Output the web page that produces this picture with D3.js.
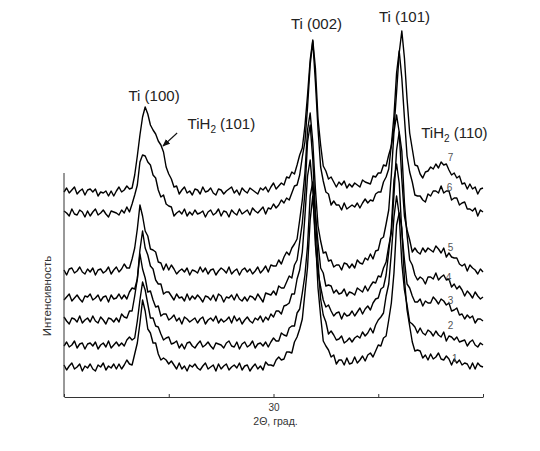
<!DOCTYPE html>
<html>
<head>
<meta charset="utf-8">
<script src="https://cdn.jsdelivr.net/npm/d3@7"></script>
<style>
  body { margin: 0; background: #fff; }
  text { font-family: "Liberation Sans", Arial, sans-serif; }
</style>
</head>
<body>
<div id="chart"></div>
<script>
// 2theta sample positions (deg)
var angles = [
  28,28.025,28.05,28.075,28.1,28.125,28.15,28.175,
  28.2,28.225,28.25,28.275,28.3,28.325,28.35,28.375,
  28.4,28.425,28.45,28.475,28.5,28.525,28.55,28.575,
  28.6,28.625,28.65,28.675,28.7,28.725,28.75,28.775,
  28.8,28.825,28.85,28.875,28.9,28.925,28.95,28.975,
  29,29.025,29.05,29.075,29.1,29.125,29.15,29.175,
  29.2,29.225,29.25,29.275,29.3,29.325,29.35,29.375,
  29.4,29.425,29.45,29.475,29.5,29.525,29.55,29.575,
  29.6,29.625,29.65,29.675,29.7,29.725,29.75,29.775,
  29.8,29.825,29.85,29.875,29.9,29.925,29.95,29.975,
  30,30.025,30.05,30.075,30.1,30.125,30.15,30.175,
  30.2,30.225,30.25,30.275,30.3,30.325,30.35,30.375,
  30.4,30.425,30.45,30.475,30.5,30.525,30.55,30.575,
  30.6,30.625,30.65,30.675,30.7,30.725,30.75,30.775,
  30.8,30.825,30.85,30.875,30.9,30.925,30.95,30.975,
  31,31.025,31.05,31.075,31.1,31.125,31.15,31.175,
  31.2,31.225,31.25,31.275,31.3,31.325,31.35,31.375,
  31.4,31.425,31.45,31.475,31.5,31.525,31.55,31.575,
  31.6,31.625,31.65,31.675,31.7,31.725,31.75,31.775,
  31.8,31.825,31.85,31.875,31.9,31.925,31.95,31.975,
  32
];

// intensity of each pattern above its own baseline (arb. units)
var curve1 = [
  2,-3,1,4,-2,0,3,-4,1,-1, 3,-2,-4,2,0,4,-3,1,-1,3,
  -2,3,-2,2,7,3,2,13,24,44, 67,56,38,34,24,24,13,7,9,7,
  3,6,2,-2,4,-2,1,-4,2,0, 3,-1,-3,1,4,-2,0,2,-4,3,
  -2,1,3,-3,0,2,-1,4,-3,1, 2,-4,0,3,-2,1,-3,5,2,2,
  1,7,10,7,8,15,15,14,25,30, 38,48,74,100,147,171,131,79,51,26,
  21,17,10,12,3,7,7,2,9,3, 4,10,4,7,11,6,12,14,10,16,
  22,21,29,31,47,64,94,142,154,139, 88,57,41,25,16,17,16,9,12,7,
  13,8,10,14,8,7,11,8,2,8, 4,7,2,4,3,-2,4,-2,4,1,
  0];
var curve2 = [
  -1,3,-2,0,4,-3,1,2,-4,1, 2,-1,3,-4,0,2,-2,4,-3,0,
  3,-1,2,-1,5,8,5,7,24,45, 63,55,41,27,27,19,18,11,5,7,
  8,1,2,4,-3,1,-4,2,3,-1, -3,1,4,-2,0,3,-1,-4,2,1,
  0,-3,2,4,-1,-2,3,-4,1,3, -2,0,4,-3,1,2,-1,3,-2,3,
  7,4,4,12,10,9,17,19,19,32, 36,52,70,99,149,163,131,83,46,30,
  23,11,14,10,5,6,9,2,4,7, 3,7,9,7,13,9,12,17,12,20,
  25,28,32,49,61,92,128,149,130,82, 55,40,23,21,18,12,17,12,10,15,
  13,9,14,10,8,13,4,9,8,5, 8,3,4,5,-1,3,5,0,-2,2,
  0];
var curve3 = [
  3,-1,-4,2,1,-2,4,-3,0,2, -2,4,-1,-3,3,0,-4,2,1,-2,
  2,-2,6,3,2,9,9,24,41,66, 51,42,28,29,20,13,14,4,6,6,
  0,2,5,-1,2,-4,3,1,-2,0, 2,-3,1,3,-4,0,2,-1,4,-3,
  1,-2,0,3,-3,4,-1,2,-4,0, 3,-1,-3,2,0,4,-2,3,0,6,
  3,9,9,6,14,15,17,26,26,41, 50,68,104,144,160,130,75,48,33,20,
  13,15,9,4,7,8,1,7,4,5, 9,4,8,12,6,11,14,10,17,21,
  22,31,33,45,68,92,140,156,137,88, 60,36,32,24,18,18,21,14,19,17,
  17,23,20,16,21,19,15,17,9,10, 12,5,6,1,5,2,4,-3,1,1,
  -1];
var curve4 = [
  -2,1,4,-3,0,3,-1,-4,2,1, 4,-2,0,3,-3,1,2,-4,3,-1,
  0,4,-1,3,-1,6,10,9,19,48, 67,50,43,32,29,18,14,14,4,6,
  6,2,-2,4,0,1,-3,4,-2,2, -1,3,0,-4,2,1,-2,3,-3,4,
  2,-4,1,0,3,-2,4,-1,-3,1, -3,2,1,-2,4,0,-4,5,4,3,
  7,3,12,10,10,16,22,20,33,38, 56,75,106,156,173,139,84,55,30,25,
  12,13,12,5,8,4,5,9,2,6, 5,3,10,8,6,12,7,12,16,15,
  22,21,30,36,52,65,103,148,166,147, 95,63,38,33,23,18,21,19,14,21,
  21,19,25,18,21,23,18,19,11,14, 9,12,8,2,7,4,0,6,2,-1,
  1];
var curve5 = [
  1,-4,2,3,-2,0,4,-1,-3,2, -1,3,-4,1,2,-2,0,4,-3,1,
  4,-1,2,7,3,3,12,23,42,66, 55,40,35,22,21,19,9,8,1,7,
  1,6,2,-3,0,2,-1,3,-4,1, 0,-2,4,-1,3,-3,1,2,-4,0,
  3,1,-2,4,-3,0,2,-4,1,3, -1,2,-3,0,4,-2,1,5,-1,6,
  5,5,11,7,14,19,16,23,27,32, 51,71,98,141,158,129,82,45,30,18,
  19,10,11,4,6,6,1,8,7,3, 7,3,11,8,7,13,11,17,12,20,
  21,32,34,47,61,96,139,156,139,92, 55,41,31,19,23,19,17,23,19,23,
  21,19,25,22,18,23,14,18,14,13, 13,7,5,7,0,6,3,1,-3,2,
  -1];
var curve6 = [
  2,0,-3,4,-1,-2,3,1,-4,2, -3,1,4,-2,0,3,-1,-4,2,1,
  0,-2,3,0,6,1,9,18,28,51, 58,57,51,48,38,35,23,16,18,9,
  7,6,-3,0,2,-1,4,-3,1,-2, 3,-1,0,2,-4,1,3,-2,0,4,
  -3,2,1,-4,3,0,-2,4,-1,1, 3,-2,5,2,0,3,6,-1,5,4,
  9,5,8,13,10,15,13,20,27,28, 38,56,71,106,148,172,131,84,46,32,
  21,19,8,12,8,8,3,10,4,6, 8,6,10,5,10,14,10,13,12,19,
  21,21,31,36,44,68,97,140,162,135, 95,57,41,31,18,17,17,13,11,19,
  17,22,22,20,27,20,22,22,13,15, 15,8,10,11,4,4,2,5,-3,3,
  1];
var curve7 = [
  -1,3,-2,1,4,-3,0,2,-4,1, 2,-1,2,-5,-1,-2,0,-5,0,-5,
  0,4,-1,1,5,2,3,16,35,56, 74,84,77,66,61,57,50,46,39,24,
  17,12,4,5,-3,1,4,-2,0,-4, 2,1,-3,4,-1,0,3,-2,-4,2,
  1,-3,0,2,4,-2,1,-4,3,0, -2,3,1,-1,-3,3,1,4,-1,4,
  8,2,5,8,6,14,13,19,17,26, 36,43,65,96,131,151,123,72,46,25,
  20,12,14,9,4,9,6,10,3,7, 4,8,6,4,11,9,8,7,15,14,
  18,18,26,25,36,45,62,99,138,160, 133,92,58,42,26,25,17,13,19,20,
  24,22,27,23,29,26,27,21,16,18, 13,15,7,8,2,7,2,4,-3,2,
  3];

var curves = [curve1, curve2, curve3, curve4, curve5, curve6, curve7];
// vertical shift of each pattern in the stack
var offsets = [30, 52, 77, 99, 126, 184, 206];
var curveNames = ["1", "2", "3", "4", "5", "6", "7"];
var namePos = [[31.73, 35], [31.69, 68], [31.69, 93], [31.67, 116], [31.69, 146], [31.68, 206], [31.69, 236]];

var xTicks = [28, 29, 30, 31, 32];
var peakLabels = [
  {text: "Ti (100)", t: 28.86, v: 296},
  {text: "Ti (002)", t: 30.41, v: 368},
  {text: "Ti (101)", t: 31.25, v: 375}
];
var hydrideLabels = [
  {t: 29.18, v: 268, sub: "(101)"},
  {t: 31.41, v: 259, sub: "(110)"}
];

var W = 540, H = 451;
var svg = d3.select("#chart").append("svg")
  .attr("width", W).attr("height", H);
svg.append("rect").attr("width", W).attr("height", H).attr("fill", "#fff");

var x = d3.scaleLinear().domain([28, 32]).range([64, 483]);
var y = d3.scaleLinear().domain([0, 377]).range([397, 20]);

// patterns
curves.forEach(function(c, k) {
  var line = d3.line()
    .x(function(d, i) { return x(angles[i]); })
    .y(function(d) { return y(offsets[k] + d); });
  svg.append("path")
    .datum(c)
    .attr("d", line)
    .attr("fill", "none")
    .attr("stroke", "#000")
    .attr("stroke-width", 1.4)
    .attr("stroke-linejoin", "round");
});

// x axis, ticks point up
var xAxis = svg.append("g")
  .attr("transform", "translate(0," + y(0) + ")")
  .call(d3.axisBottom(x).tickValues(xTicks).tickSize(-3).tickSizeOuter(0).tickPadding(7)
    .tickFormat(function(d) { return d === 30 ? "30" : ""; }));
xAxis.select(".domain").attr("stroke", "#333");
xAxis.selectAll(".tick line").attr("stroke", "#333");
xAxis.selectAll("text").attr("font-size", 10).attr("fill", "#333")
  .style("font-family", "'Liberation Sans', Arial, sans-serif");

// y axis line only
svg.append("line")
  .attr("x1", x(28)).attr("x2", x(28))
  .attr("y1", y(0)).attr("y2", y(224))
  .attr("stroke", "#333");

svg.append("text")
  .attr("x", x(30) + 2).attr("y", 425)
  .attr("text-anchor", "middle")
  .attr("font-size", 10.5).attr("fill", "#333")
  .text("2\u0398, \u0433\u0440\u0430\u0434.");

svg.append("text")
  .attr("transform", "translate(51,296) rotate(-90)")
  .attr("text-anchor", "middle")
  .attr("font-size", 11.5).attr("fill", "#333")
  .text("\u0418\u043d\u0442\u0435\u043d\u0441\u0438\u0432\u043d\u043e\u0441\u0442\u044c");

// peak labels
peakLabels.forEach(function(p) {
  svg.append("text")
    .attr("x", x(p.t)).attr("y", y(p.v))
    .attr("text-anchor", "middle")
    .attr("font-size", 15).attr("fill", "#222")
    .text(p.text);
});
hydrideLabels.forEach(function(p) {
  var t = svg.append("text")
    .attr("x", x(p.t)).attr("y", y(p.v))
    .attr("font-size", 15).attr("fill", "#222");
  t.append("tspan").text("TiH");
  t.append("tspan").attr("font-size", 10).attr("dy", 4).text("2");
  t.append("tspan").attr("dy", -4).text(" " + p.sub);
});

// arrow to TiH2 (101) shoulder
svg.append("defs").append("marker")
  .attr("id", "arr").attr("viewBox", "0 0 10 10")
  .attr("refX", 9).attr("refY", 5)
  .attr("markerWidth", 7).attr("markerHeight", 7)
  .attr("orient", "auto")
  .append("path").attr("d", "M0,1L10,5L0,9Z").attr("fill", "#111");
svg.append("line")
  .attr("x1", x(29.08)).attr("y1", y(264))
  .attr("x2", x(28.945)).attr("y2", y(251))
  .attr("stroke", "#111").attr("stroke-width", 1.1)
  .attr("marker-end", "url(#arr)");

// pattern numbers
curveNames.forEach(function(n, k) {
  svg.append("text")
    .attr("x", x(namePos[k][0])).attr("y", y(namePos[k][1]))
    .attr("text-anchor", "middle")
    .attr("font-size", 10).attr("fill", "#555")
    .text(n);
});
</script>
</body>
</html>
